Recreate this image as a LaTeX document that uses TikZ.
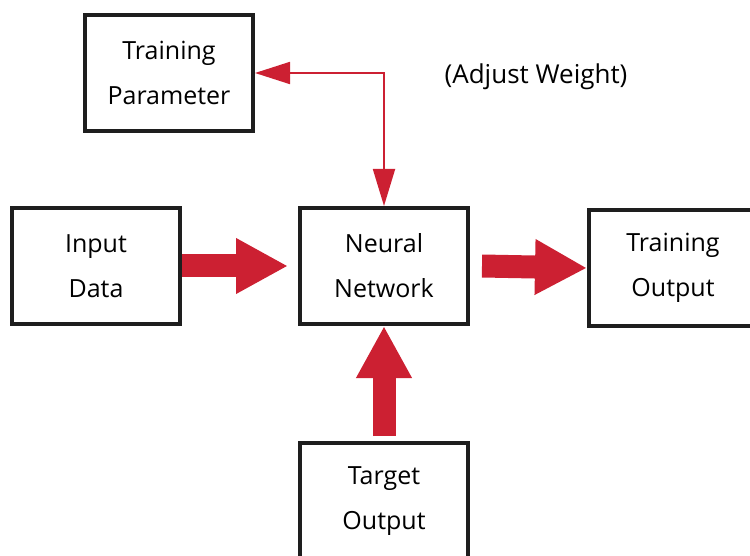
\documentclass[tikz,border=0pt]{standalone}
\usepackage{fontspec}
\setmainfont{Open Sans}
\usepackage{xcolor}
\usepackage{tikz}
\usetikzlibrary{positioning,arrows.meta,calc}
\definecolor{arrowred}{RGB}{204,32,50}
\definecolor{boxline}{RGB}{30,30,30}

\begin{document}
\begin{tikzpicture}[x=1pt, y=-1pt,
    blockbox/.style={draw=boxline, line width=4pt, minimum width=168pt,
        minimum height=116pt, align=center, font=\fontsize{25}{45}\selectfont},
    fatarrow/.style={draw=arrowred, line width=23pt,
        -{Triangle[length=52pt, width=52pt]}},
    thinlink/.style={draw=arrowred, line width=1.8pt,
        {Triangle[length=35pt, width=22pt]}-{Triangle[length=37pt, width=22pt]}}]
    \useasboundingbox (0,0) rectangle (750,556);

    % Blocks
    \node[blockbox] (param) at (169,73) {Training\\Parameter};
    \node[blockbox] (input) at (96,266) {Input\\Data};
    \node[blockbox] (net) at (384,266) {Neural\\Network};
    \node[blockbox] (out) at (673,268) {Training\\Output};
    \node[blockbox] (target) at (384,501) {Target\\Output};

    % Label
    \node[font=\fontsize{26}{30}\selectfont] (adjust) at (536,77) {(Adjust Weight)};

    % Feedback link
    \draw[thinlink] (param.east) -| (net.north);

    % Main flow
    \draw[fatarrow] (input.east) -- ([xshift=-10pt]net.west);
    \draw[fatarrow] ([xshift=12pt]net.east) -- (out.west);
    \draw[fatarrow] ([yshift=5pt]target.north) -- (net.south);
\end{tikzpicture}
\end{document}
